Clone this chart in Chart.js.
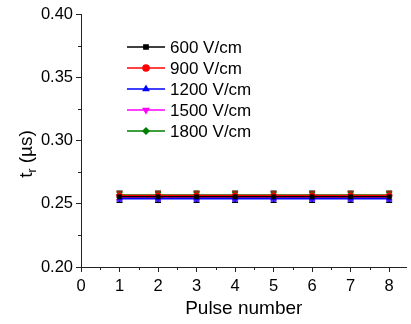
<!DOCTYPE html>
<html>
<head>
<meta charset="utf-8">
<script src="https://cdn.jsdelivr.net/npm/chart.js@4"></script>
<style>
  html, body { margin:0; padding:0; background:#fff; }
  #wrap { width:411px; height:324px; position:relative; }
</style>
</head>
<body>
<div id="wrap"><canvas id="c" width="411" height="324"></canvas></div>
<script>
"use strict";
const pulses   = [1, 2, 3, 4, 5, 6, 7, 8];
const labels   = ['600 V/cm', '900 V/cm', '1200 V/cm', '1500 V/cm', '1800 V/cm'];
const colors   = ['#000000', '#ff0000', '#0000ff', '#ff00ff', '#008000'];
const styles   = ['rect', 'circle', 'triangle', 'triangle', 'rectRot'];
const rotation = [0, 0, 0, 180, 0];
const t600     = [0.2555, 0.2555, 0.2555, 0.2555, 0.2555, 0.2555, 0.2555, 0.2555];
const t900     = [0.2565, 0.2565, 0.2565, 0.2565, 0.2565, 0.2565, 0.2565, 0.2565];
const t1200    = [0.2540, 0.2540, 0.2540, 0.2540, 0.2540, 0.2540, 0.2540, 0.2540];
const t1500    = [0.2550, 0.2550, 0.2550, 0.2550, 0.2550, 0.2550, 0.2550, 0.2550];
const t1800    = [0.2570, 0.2570, 0.2570, 0.2570, 0.2570, 0.2570, 0.2570, 0.2570];
const errs     = [0.0045, 0.003, 0.002, 0.002, 0.002];
const series   = [t600, t900, t1200, t1500, t1800];

const FONT = 'Liberation Sans, Arial, sans-serif';

const datasets = series.map((s, i) => ({
  label: labels[i],
  data: pulses.map((p, j) => ({ x: p, y: s[j] })),
  borderColor: colors[i],
  backgroundColor: colors[i],
  borderWidth: 1.5,
  pointStyle: styles[i],
  rotation: rotation[i],
  pointRadius: 3,
  pointBorderWidth: 0.5,
  err: errs[i]
}));

// error bars, minor ticks, y title and legend
const extras = {
  id: 'extras',
  beforeDatasetsDraw(chart) {
    const {ctx, scales:{x, y}} = chart;
    ctx.save();
    chart.data.datasets.forEach(ds => {
      ctx.strokeStyle = ds.borderColor;
      ctx.lineWidth = 1.2;
      ds.data.forEach(p => {
        const px = x.getPixelForValue(p.x);
        const y1 = y.getPixelForValue(p.y + ds.err), y2 = y.getPixelForValue(p.y - ds.err);
        ctx.beginPath();
        ctx.moveTo(px, y1); ctx.lineTo(px, y2);
        ctx.moveTo(px - 3, y1); ctx.lineTo(px + 3, y1);
        ctx.moveTo(px - 3, y2); ctx.lineTo(px + 3, y2);
        ctx.stroke();
      });
    });
    ctx.restore();
  },
  afterDraw(chart) {
    const {ctx, chartArea:ca, scales:{x, y}} = chart;
    ctx.save();
    ctx.strokeStyle = '#222';
    ctx.lineWidth = 1;
    ctx.beginPath();
    for (let v = 0.5; v < x.max; v += 1) {
      const px = Math.round(x.getPixelForValue(v)) + 0.5;
      ctx.moveTo(px, ca.bottom); ctx.lineTo(px, ca.bottom + 3);
    }
    for (let v = 0.225; v < y.max; v += 0.05) {
      const py = Math.round(y.getPixelForValue(v)) + 0.5;
      ctx.moveTo(ca.left, py); ctx.lineTo(ca.left - 3, py);
    }
    ctx.stroke();

    // y title with subscript
    ctx.translate(32, 154);
    ctx.rotate(-Math.PI / 2);
    ctx.fillStyle = '#000';
    ctx.textBaseline = 'alphabetic';
    ctx.font = '19px ' + FONT;
    const w1 = ctx.measureText('t').width;
    ctx.font = '12px ' + FONT;
    const w2 = ctx.measureText('r').width;
    ctx.font = '19px ' + FONT;
    const w3 = ctx.measureText(' (µs)').width;
    let sx = -(w1 + w2 + w3) / 2;
    ctx.fillText('t', sx, 0);
    ctx.font = '12px ' + FONT;
    ctx.fillText('r', sx + w1, 4);
    ctx.font = '19px ' + FONT;
    ctx.fillText(' (µs)', sx + w1 + w2, 0);
    ctx.restore();

    // legend
    ctx.save();
    chart.data.datasets.forEach((ds, i) => {
      const ly = 47 + i * 21;
      ctx.strokeStyle = ds.borderColor;
      ctx.lineWidth = 1.5;
      ctx.beginPath(); ctx.moveTo(127, ly); ctx.lineTo(165, ly); ctx.stroke();
      ctx.fillStyle = ds.backgroundColor;
      Chart.helpers.drawPoint(ctx, { pointStyle: ds.pointStyle, radius: 3, rotation: ds.rotation, borderWidth: 0.5 }, 146, ly);
      ctx.fillStyle = '#000';
      ctx.font = '17px ' + FONT;
      ctx.textBaseline = 'middle';
      ctx.fillText(ds.label, 170, ly + 1);
    });
    ctx.restore();
  }
};

new Chart(document.getElementById('c'), {
  type: 'line',
  data: { datasets },
  options: {
    responsive: false,
    animation: false,
    layout: { padding: { top: 14, right: 0, left: 0, bottom: 0 } },
    plugins: { legend: { display: false }, tooltip: { enabled: false } },
    scales: {
      x: {
        type: 'linear', min: 0, max: 8.45,
        afterFit(s) { s.height = 57; },
        grid: { display: true, drawOnChartArea: false, tickLength: 5, color: '#222' },
        border: { display: true, color: '#222', width: 1 },
        ticks: { stepSize: 1, includeBounds: false, color: '#000', padding: 5, font: { family: FONT, size: 16.5 } },
        title: { display: true, text: 'Pulse number', color: '#000', padding: { top: 3 }, font: { family: FONT, size: 19 } }
      },
      y: {
        min: 0.20, max: 0.40,
        afterFit(s) { s.width = 81; },
        grid: { display: true, drawOnChartArea: false, tickLength: 5, color: '#222' },
        border: { display: true, color: '#222', width: 1 },
        ticks: { stepSize: 0.05, color: '#000', padding: 3, font: { family: FONT, size: 16.5 }, callback: v => v.toFixed(2) }
      }
    }
  },
  plugins: [extras]
});
</script>
</body>
</html>
